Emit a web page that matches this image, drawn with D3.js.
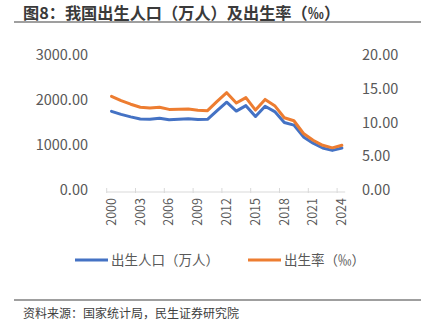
<!DOCTYPE html>
<html lang="zh">

<head>
    <meta charset="UTF-8">
    <title>出生人口及出生率</title>
    <style>
        body { margin: 0; background: #fff; }
        svg { display: block; font-family: "Noto Sans CJK SC", "Noto Sans", sans-serif; }
    </style>
</head>

<body>
    <script src="https://d3js.org/d3.v7.min.js"></script>
    <script>

        const width = 428;
        const height = 322;

        // data
        const years = d3.range(2000, 2025).map(String);
        const births = [1771, 1702, 1647, 1599, 1593, 1617, 1584, 1594, 1608, 1591, 1592, 1785, 1973,
            1776, 1897, 1655, 1883, 1765, 1523, 1465, 1202, 1062, 956, 902, 954];
        const rates = [14.03, 13.38, 12.86, 12.41, 12.29, 12.40, 12.09, 12.10, 12.14, 11.95, 11.90, 13.27, 14.57,
            13.03, 13.83, 11.99, 13.57, 12.64, 10.86, 10.41, 8.52, 7.52, 6.77, 6.39, 6.77];
        const leftTicks = [0, 1000, 2000, 3000];
        const rightTicks = [0, 5, 10, 15, 20];
        const xLabels = ["2000", "2003", "2006", "2009", "2012", "2015", "2018", "2021", "2024"];
        const seriesNames = ["出生人口（万人）", "出生率（‰）"];

        const blue = "#4472C4";
        const orange = "#ED7D31";
        const grey = "#595959";

        // scales
        const x = d3.scaleBand().domain(years).range([106.7, 346.7]);
        const yL = d3.scaleLinear().domain([0, 3000]).range([191, 56]);
        const yR = d3.scaleLinear().domain([0, 20]).range([191, 56]);

        const svg = d3.select("body").append("svg")
            .attr("width", width)
            .attr("height", height);

        // title
        svg.append("text")
            .attr("x", 23).attr("y", 19)
            .attr("font-size", 16.2).attr("font-weight", "bold")
            .attr("fill", "#3a3a3a")
            .text("图8：我国出生人口（万人）及出生率（‰）");
        svg.append("line")
            .attr("x1", 14).attr("x2", 421).attr("y1", 22).attr("y2", 22)
            .attr("stroke", "#404040").attr("stroke-width", 1.2);

        // left axis labels
        svg.append("g")
            .attr("font-size", 14.5).attr("fill", grey).attr("text-anchor", "end")
            .selectAll("text")
            .data(leftTicks)
            .join("text")
            .attr("x", 88)
            .attr("y", d => yL(d) - 1)
            .attr("dy", "0.35em")
            .text(d => d.toFixed(2));

        // right axis labels
        svg.append("g")
            .attr("font-size", 14.5).attr("fill", grey).attr("text-anchor", "start")
            .selectAll("text")
            .data(rightTicks)
            .join("text")
            .attr("x", 362)
            .attr("y", d => yR(d) - 1)
            .attr("dy", "0.35em")
            .text(d => d.toFixed(2));

        // x axis
        const axisY = yL(0) + 1;
        svg.append("line")
            .attr("x1", x.range()[0]).attr("x2", x.range()[1] - 1.5)
            .attr("y1", axisY).attr("y2", axisY)
            .attr("stroke", "#d9d9d9");
        svg.append("g")
            .attr("stroke", "#d9d9d9")
            .selectAll("line")
            .data(xLabels)
            .join("line")
            .attr("x1", d => x(d)).attr("x2", d => x(d))
            .attr("y1", axisY - 4).attr("y2", axisY + 1);
        svg.append("g")
            .attr("font-size", 12.5).attr("fill", grey).attr("text-anchor", "end")
            .selectAll("text")
            .data(xLabels)
            .join("text")
            .attr("transform", d => `translate(${x(d) + x.bandwidth() / 2},${axisY + 6}) rotate(-90)`)
            .attr("dy", "0.35em")
            .text(d => d);

        // lines
        const cx = (d, i) => x(years[i]) + x.bandwidth() / 2;
        const lineL = d3.line().x(cx).y(d => yL(d));
        const lineR = d3.line().x(cx).y(d => yR(d));

        svg.append("path")
            .datum(births)
            .attr("fill", "none").attr("stroke", blue).attr("stroke-width", 3)
            .attr("stroke-linejoin", "round").attr("stroke-linecap", "round")
            .attr("d", lineL);
        svg.append("path")
            .datum(rates)
            .attr("fill", "none").attr("stroke", orange).attr("stroke-width", 3)
            .attr("stroke-linejoin", "round").attr("stroke-linecap", "round")
            .attr("d", lineR);

        // legend
        const legend = svg.append("g").attr("font-size", 13.5).attr("fill", grey);
        const legendItems = [
            { name: seriesNames[0], color: blue, x: 75 },
            { name: seriesNames[1], color: orange, x: 248 }
        ];
        legend.selectAll("line")
            .data(legendItems)
            .join("line")
            .attr("x1", d => d.x).attr("x2", d => d.x + 33)
            .attr("y1", 260).attr("y2", 260)
            .attr("stroke", d => d.color).attr("stroke-width", 3);
        legend.selectAll("text")
            .data(legendItems)
            .join("text")
            .attr("x", d => d.x + 36).attr("y", 260)
            .attr("dy", "0.35em")
            .text(d => d.name);

        // footer
        svg.append("line")
            .attr("x1", 14).attr("x2", 421).attr("y1", 300).attr("y2", 300)
            .attr("stroke", "#404040").attr("stroke-width", 1.2);
        svg.append("text")
            .attr("x", 23).attr("y", 318)
            .attr("font-size", 12).attr("fill", "#404040")
            .text("资料来源：国家统计局，民生证券研究院");

    </script>
</body>

</html>
